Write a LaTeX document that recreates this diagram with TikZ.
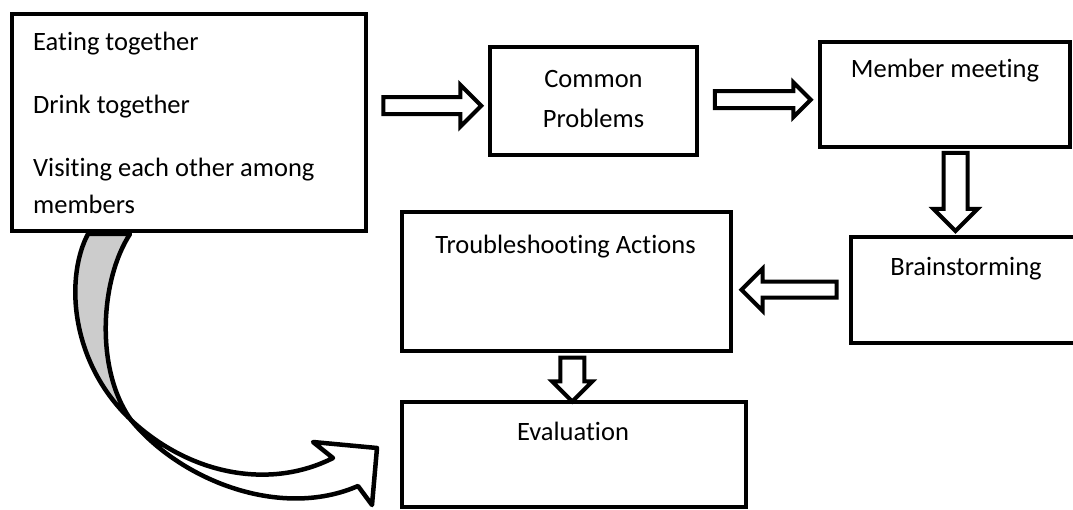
\documentclass[tikz,border=0pt]{standalone}
\usepackage{fontspec}
\setmainfont{Carlito}[Ligatures=NoCommon]
\usetikzlibrary{shapes.arrows, calc}
\tikzset{
  box/.style      = {draw, line width=4.5pt, fill=white, outer sep=0pt, inner sep=0pt},
  lbl/.style      = {inner sep=0pt, font=\fontsize{26.5}{37}\selectfont},
  blockarrow/.style = {single arrow, draw, line width=4pt, fill=white,
                     inner xsep=0pt, outer sep=0pt},
  downarrow/.style = {blockarrow, inner ysep=0pt, shape border rotate=270},
  curvearrow/.style = {draw, line width=4.5pt, line join=round},
}

\begin{document}
\begin{tikzpicture}[x=1pt, y=-1pt]
\useasboundingbox (0,0) rectangle (1073,510);
\clip (0,0) rectangle (1073,510);

% curved arrow from the first box down to the evaluation
\path[curvearrow, fill=black!20] (88,234) .. controls (66,275) and (68,360) .. (131,420)
  .. controls (95,370) and (100,280) .. (130,234) -- cycle;
\path[curvearrow, fill=white] (131,420) .. controls (190,475) and (270,490) .. (333,458)
  -- (313,442) -- (377,448) -- (372,505) -- (358,486)
  .. controls (280,520) and (180,480) .. (131,420) -- cycle;

% boxes
\node[box, minimum width=354, minimum height=217] (eat) at (189,122.5) {};
\node[box, minimum width=207, minimum height=108] (prob) at (593.5,101) {};
\node[box, minimum width=250, minimum height=105] (meet) at (945,94.5) {};
\node[box, minimum width=234, minimum height=106] (brain) at (968,290) {};
\node[box, minimum width=329, minimum height=139] (acts) at (566.5,281.5) {};
\node[box, minimum width=344, minimum height=105] (eval) at (574,454.5) {};

% texts
\node[lbl, anchor=north west, align=left] (eattext) at ($(eat.north west)+(21,18)$)
  {Eating together\\[26pt]Drink together\\[26pt]Visiting each other among\\members};
\node[lbl, anchor=north, align=center] (probtext) at ($(prob.north)+(0,23)$) {Common\\[3pt]Problems};
\node[lbl, anchor=north] (meettext) at ($(meet.north)+(0,17)$) {Member meeting};
\node[lbl, anchor=north] (braintext) at ($(brain.north)+(-2,20)$) {Brainstorming};
\node[lbl, anchor=north] (actstext) at ($(acts.north)+(-1,23)$) {Troubleshooting Actions};
\node[lbl, anchor=north] (evaltext) at ($(eval.north)+(-1,20)$) {Evaluation};

% block arrows
\node[blockarrow, inner ysep=6.5pt, single arrow head extend=12.5pt, minimum height=98]
  (a1) at ($(eat.east)!0.5!(prob.west)+(0,-6)$) {};
\node[blockarrow, inner ysep=6.5pt, single arrow head extend=9pt, minimum height=96]
  (a2) at ($(prob.east)!0.5!(meet.west)+(0,2)$) {};
\node[downarrow, inner xsep=10pt, single arrow head extend=10pt, minimum height=78]
  (a3) at ($(meet.south)!0.5!(brain.north)+(-1,-6)$) {};
\node[blockarrow, inner ysep=6pt, single arrow head extend=13pt, minimum height=95,
  shape border rotate=180] (a4) at ($(brain.west)!0.5!(acts.east)+(2,4)$) {};
\node[downarrow, inner xsep=10pt, single arrow head extend=8pt, minimum height=44]
  (a5) at ($(acts.south)!0.5!(eval.north)+(2,-3)$) {};

\end{tikzpicture}
\end{document}
